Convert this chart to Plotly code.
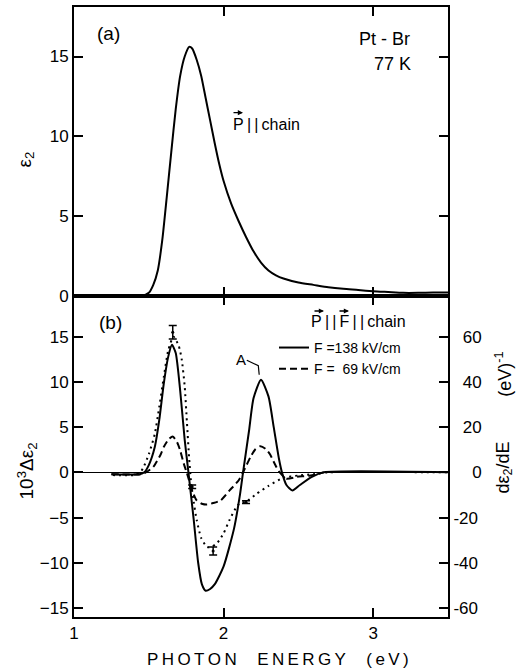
import plotly.graph_objects as go

# (a) eps2 spectrum, P || chain
e_top = [1.00, 1.45, 1.50, 1.53, 1.56, 1.59, 1.62, 1.65, 1.68, 1.71, 1.74, 1.77, 1.79,
         1.82, 1.85, 1.88, 1.91, 1.94, 1.97, 2.00, 2.05, 2.10, 2.15, 2.20, 2.25, 2.30,
         2.35, 2.40, 2.50, 2.60, 2.70, 2.80, 2.90, 3.00, 3.10, 3.20, 3.30, 3.40, 3.50]
eps2 = [0.0, 0.0, 0.2, 0.7, 1.6, 3.5, 6.2, 9.0, 11.7, 13.8, 15.0, 15.6, 15.5,
        14.8, 13.8, 12.4, 11.0, 9.6, 8.3, 7.2, 5.8, 4.7, 3.7, 2.8, 2.1, 1.6,
        1.3, 1.1, 0.85, 0.7, 0.55, 0.45, 0.38, 0.3, 0.25, 0.2, 0.2, 0.22, 0.22]

# (b) 10^3 delta eps2, F = 138 kV/cm
e_138 = [1.25, 1.44, 1.47, 1.50, 1.54, 1.57, 1.60, 1.63, 1.655, 1.68, 1.71, 1.74, 1.765,
         1.80, 1.83, 1.855, 1.88, 1.91, 1.94, 2.00, 2.07, 2.11, 2.13, 2.17, 2.20, 2.25,
         2.30, 2.335, 2.37, 2.39, 2.42, 2.46, 2.51, 2.59, 2.67, 3.50]
de_138 = [-0.2, -0.2, 0.0, 0.8, 2.8, 5.8, 9.8, 12.8, 14.1, 13.2, 9.0, 3.6, 0.0,
          -5.2, -10.0, -12.4, -13.1, -12.9, -12.4, -10.4, -6.2, -2.4, 0.0, 4.6, 8.2, 10.25,
          8.4, 5.0, 1.5, 0.0, -1.4, -2.0, -1.4, -0.5, 0.0, 0.0]

# F = 69 kV/cm
e_69 = [1.25, 1.45, 1.48, 1.53, 1.58, 1.60, 1.63, 1.66, 1.69, 1.71, 1.735, 1.755, 1.79,
        1.82, 1.86, 1.89, 1.93, 1.98, 2.04, 2.10, 2.13, 2.18, 2.21, 2.245, 2.28, 2.31,
        2.34, 2.37, 2.42, 2.49, 2.58, 2.67]
de_69 = [-0.2, -0.2, 0.0, 0.6, 2.0, 2.8, 3.6, 3.97, 3.3, 2.4, 0.9, -0.1, -2.0,
         -3.1, -3.5, -3.55, -3.4, -3.1, -2.0, -0.9, 0.0, 1.7, 2.5, 2.9, 2.6, 2.0,
         1.0, 0.1, -0.7, -0.5, -0.35, 0.0]

# d eps2 / dE (right axis, eV^-1)
e_deriv = [1.26, 1.40, 1.44, 1.46, 1.50, 1.54, 1.57, 1.60, 1.63, 1.665, 1.70, 1.72, 1.74,
           1.755, 1.77, 1.785, 1.80, 1.82, 1.85, 1.89, 1.92, 1.96, 2.00, 2.04, 2.08, 2.11,
           2.15, 2.22, 2.30, 2.40, 2.50, 2.60, 2.70, 3.50]
deriv = [-1.2, -1.2, 0.0, 1.6, 8, 17, 29, 42, 54, 60, 56, 50, 38,
         22, 6, -6, -13, -21, -29, -33, -33, -31, -27, -21, -16, -13.5,
         -13, -9.5, -6, -2.4, -1.4, -0.8, 0.0, 0.0]

# error bars on derivative
e_err = [1.66, 1.79, 1.93, 2.15]
deriv_err = [62, -6.4, -34.8, -13.2]
deriv_err_size = [3.0, 0.8, 1.8, 0.6]

y2_ticks = [-15, -10, -5, 0, 5, 10, 15]
y3_ticks = [-60, -40, -20, 0, 20, 40, 60]
y3_text = ["-60", "-40", "-20", "\u2007\u20070", "\u200720", "\u200740", "\u200760"]

FONT = "Liberation Sans"
W, H = 517, 672
L, R, T, B = 74, 69, 5, 55
split = 322 / 612

fig = go.Figure()

fig.add_trace(go.Scatter(x=e_top, y=eps2, mode="lines",
                         line=dict(color="black", width=2, shape="spline", smoothing=0.6),
                         xaxis="x", yaxis="y", showlegend=False))
fig.add_trace(go.Scatter(x=e_138, y=de_138, mode="lines", name="F =138 kV/cm",
                         line=dict(color="black", width=2, shape="spline", smoothing=0.6),
                         xaxis="x2", yaxis="y2"))
fig.add_trace(go.Scatter(x=e_69, y=de_69, mode="lines", name="F =  69 kV/cm",
                         line=dict(color="black", width=2, dash="7px,4px",
                                   shape="spline", smoothing=0.6),
                         xaxis="x2", yaxis="y2"))
fig.add_trace(go.Scatter(x=e_deriv, y=deriv, mode="lines", showlegend=False,
                         line=dict(color="black", width=2, dash="2px,4px",
                                   shape="spline", smoothing=0.6),
                         xaxis="x2", yaxis="y3"))
fig.add_trace(go.Scatter(x=e_err, y=deriv_err, mode="markers", showlegend=False,
                         marker=dict(color="black", size=3),
                         error_y=dict(type="data", array=deriv_err_size, color="black",
                                      thickness=1.5, width=4),
                         xaxis="x2", yaxis="y3"))

tick = dict(ticks="inside", ticklen=9, tickwidth=2, tickcolor="black", showline=True,
            linecolor="black", linewidth=2, mirror="ticks", showgrid=False,
            tickfont=dict(family=FONT, size=17, color="black"))

fig.update_layout(
    width=W, height=H, margin=dict(l=L, r=R, t=T, b=B),
    plot_bgcolor="white", paper_bgcolor="white",
    font=dict(family=FONT, color="black"),
    xaxis=dict(domain=[0, 1], anchor="y", range=[1, 3.5], tickvals=[1, 2, 3],
               showticklabels=False, zeroline=False, **tick),
    yaxis=dict(domain=[split, 1], anchor="x", range=[0, 18.1], tickvals=[0, 5, 10, 15],
               zeroline=False, **tick),
    xaxis2=dict(domain=[0, 1], anchor="y2", range=[1, 3.5], tickvals=[1, 2, 3],
                zeroline=False, **tick),
    yaxis2=dict(domain=[0, split], anchor="x2", range=[-16, 19.5], tickvals=y2_ticks,
                zeroline=True, zerolinecolor="black", zerolinewidth=1,
                **{**tick, "mirror": True}),
    yaxis3=dict(overlaying="y2", side="right", anchor="x2", range=[-64, 78],
                tickvals=y3_ticks, ticktext=y3_text, zeroline=False,
                **{**tick, "mirror": False}),
    legend=dict(x=(274 - L) / 374, y=(617 - 331) / 612, xanchor="left", yanchor="top",
                bgcolor="rgba(0,0,0,0)", font=dict(family=FONT, size=14, color="black"),
                itemwidth=30, tracegroupgap=0),
)


def px_x(px):
    return (px - L) / (W - L - R)


def px_y(py):
    return (H - B - py) / (H - B - T)


notes = [
    # text, x px, y px, size, angle
    ("(a)", 108, 32, 19, 0),
    ("Pt - Br", 384, 37, 18, 0),
    ("77 K", 392, 62, 18, 0),
    ("P\u2009|\u2009|\u2009chain", 266, 123, 16, 0),
    ("(b)", 110, 322, 19, 0),
    ("P\u2009|\u2009|\u2009F\u2009|\u2009|\u2009chain", 358, 321, 16, 0),
    ("A", 241, 359, 15, 0),
    ("\u03b5<sub>2</sub>", 25, 158, 19, -90),
    ("10<sup>3</sup>\u0394\u03b5<sub>2</sub>", 27, 471, 19, -90),
    ("d\u03b5<sub>2</sub>/dE", 504, 467, 18, -90),
    ("(eV)<sup>-1</sup>", 504, 374, 18, -90),
    ("P\u2009H\u2009O\u2009T\u2009O\u2009N\u2003\u2009E\u2009N\u2009E\u2009R\u2009G\u2009Y\u2003\u2009(\u2009e\u2009V\u2009)",
     278, 660, 17, 0),
]
for text, x, y, size, ang in notes:
    fig.add_annotation(text=text, x=px_x(x), y=px_y(y), xref="paper", yref="paper",
                       showarrow=False, textangle=ang, xanchor="center", yanchor="middle",
                       font=dict(family=FONT, size=size, color="black"))

# vector arrows over P and F (tip position in pixels)
for x, y in [(243, 111), (324, 310), (349, 310)]:
    fig.add_annotation(text="", x=px_x(x), y=px_y(y), xref="paper", yref="paper",
                       showarrow=True, ax=-11, ay=0, arrowhead=2, arrowsize=0.8,
                       arrowwidth=1.3, arrowcolor="black", standoff=0)

# leader line for label A
fig.add_shape(type="path", xref="x2", yref="y2",
              path="M 2.155 12.4 L 2.232 11.8 L 2.238 10.8",
              line=dict(color="black", width=1.2))

fig.write_html("out.html", config={"displayModeBar": False},
               post_script="document.body.style.margin='0';")
